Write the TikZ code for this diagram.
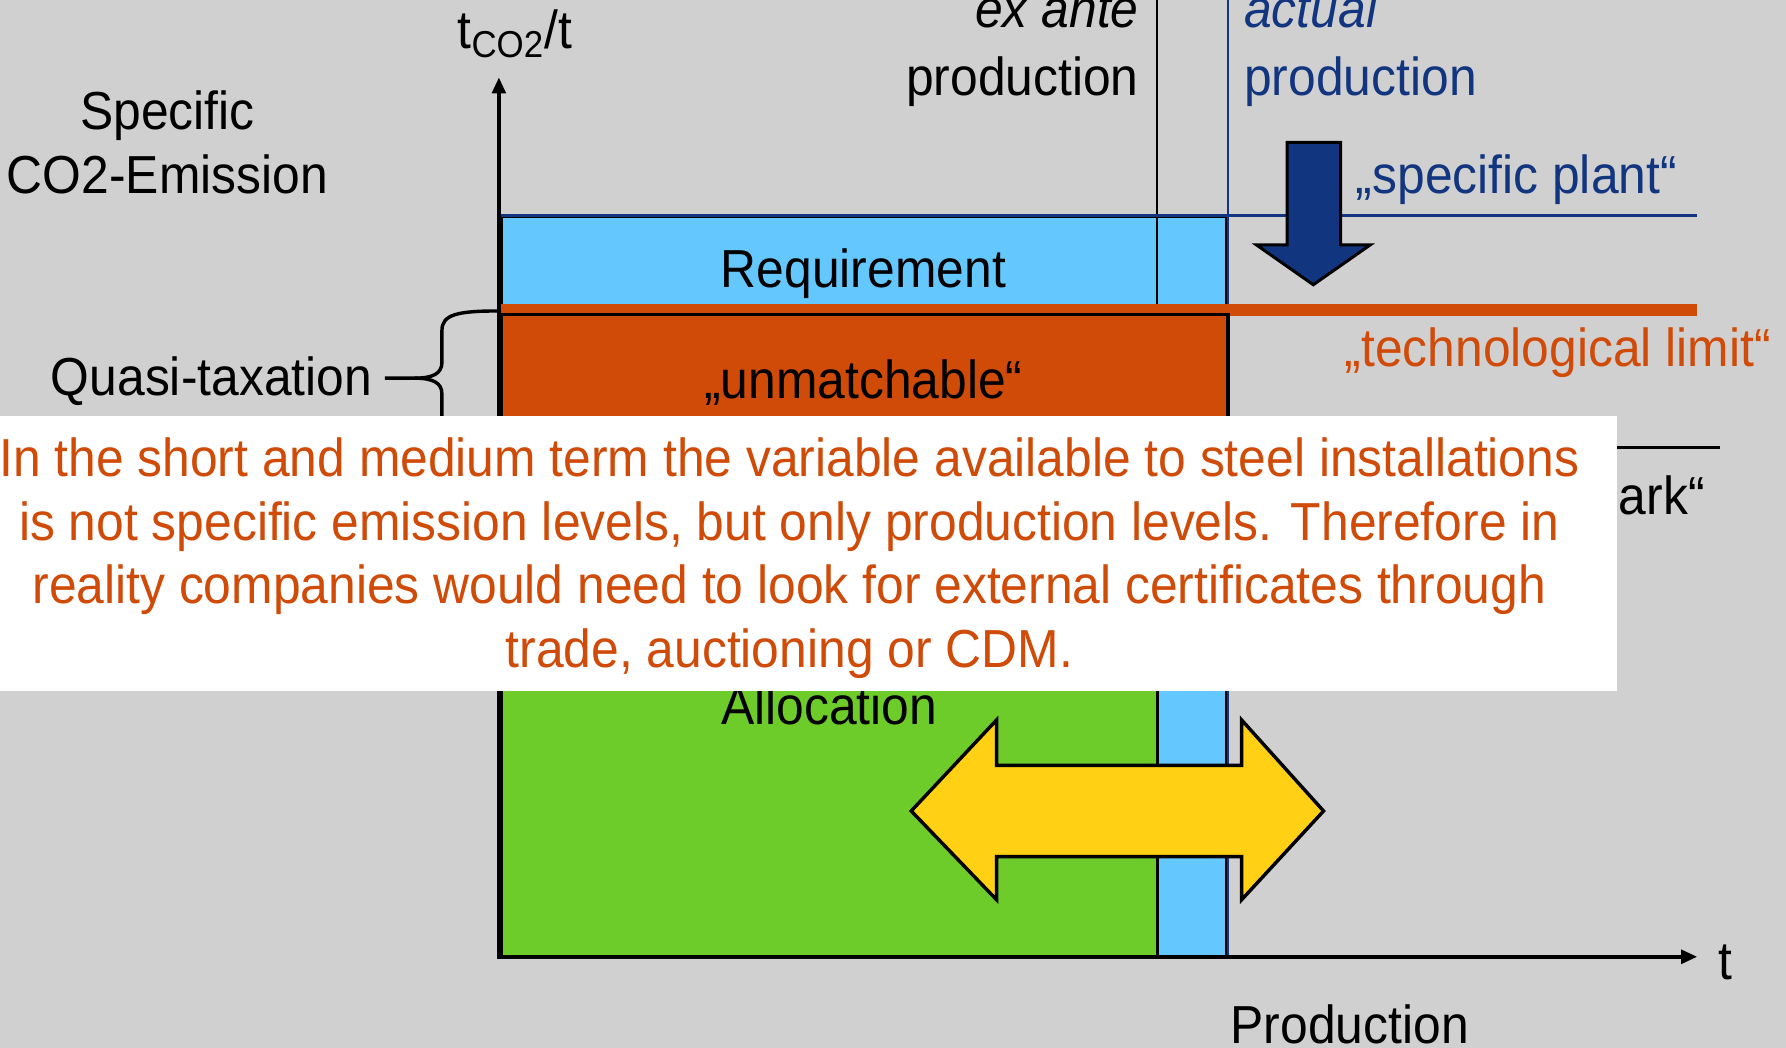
\documentclass[tikz,border=0pt]{standalone}
\usepackage{fontspec}
\setmainfont{Liberation Sans}[FakeStretch=0.93]
\usetikzlibrary{arrows.meta}
\definecolor{bggrey}{HTML}{D0D0D0}
\definecolor{reqblue}{HTML}{64C8FF}
\definecolor{limorange}{HTML}{D04A08}
\definecolor{allocgreen}{HTML}{6ECC2A}
\definecolor{plantblue}{HTML}{12357F}
\definecolor{arrowyellow}{HTML}{FFD014}
\begin{document}
\begin{tikzpicture}[x=0.5pt,y=-0.5pt,
  lbl/.style={inner sep=0pt, font=\fontsize{23.5}{28}\selectfont},
  boxline/.style={draw=black, line width=1.5pt},
  axis/.style={line width=1.5pt, -{Triangle[length=7pt,width=6pt]}}]
\fill[bggrey] (0,0) rectangle (1568,920);
\useasboundingbox (0,0) rectangle (1568,920);

% requirement box (light blue, incl. column between ex ante and actual)
\path[fill=reqblue, boxline] (440,190) rectangle (1077,840);
\node[lbl, anchor=base] (req) at (758,252) {Requirement};

% ex ante / actual production lines
\coordinate (exT) at (1016,0); \coordinate (exB) at (1016,840);
\coordinate (acT) at (1078,0); \coordinate (acB) at (1078,840);
\draw[line width=1pt] (exT) -- (exB);
\draw[line width=1pt, plantblue] (acT) -- (acB);

% specific plant line
\coordinate (spL) at (440,189); \coordinate (spR) at (1490,189);
\draw[line width=1.5pt, plantblue] (spL) -- (spR);

% technological limit line
\coordinate (tlL) at (440,272); \coordinate (tlR) at (1490,272);
\draw[line width=5pt, limorange] (tlL) -- (tlR);

% unmatchable box
\path[fill=limorange, boxline] (440,276) rectangle (1078,393);
\node[lbl, anchor=base] (unm) at (758,350) {„unmatchable“};

% allocation box
\path[fill=allocgreen, boxline] (440,393) rectangle (1016,840);
\node[lbl, anchor=base] (alloc) at (728,636) {Allocation};

% benchmark line
\coordinate (bmL) at (1078,393); \coordinate (bmR) at (1510,393);
\draw[line width=1.5pt] (bmL) -- (bmR);
\node[lbl, anchor=base east] (bm) at (1497,452) {ark“};

% axes
\coordinate (O) at (438,840);
\coordinate (yT) at (438,68);
\coordinate (xR) at (1490,840);
\draw[axis] (438,842) -- (yT);
\draw[axis] (O) -- (xR);
\node[lbl, anchor=base] (tx) at (1515,860) {t};
\node[lbl, anchor=base] (prod) at (1185,916) {Production};
\node[lbl, anchor=base] (ty) at (452,43) {t\textsubscript{CO2}/t};
\node[lbl, align=center] (spec) at (147,125) {Specific\\CO2-Emission};

% ex ante / actual labels
\node[lbl, anchor=base east, font=\fontsize{23.5}{28}\selectfont\itshape] (exante) at (1000,24) {ex ante};
\node[lbl, anchor=base east] (exprod) at (1000,84) {production};
\node[lbl, anchor=base west, text=plantblue, font=\fontsize{23.5}{28}\selectfont\itshape] (actual) at (1092,24) {actual};
\node[lbl, anchor=base west, text=plantblue] (acprod) at (1092,84) {production};

% specific plant arrow
\draw[fill=plantblue, line width=1.3pt] (1130,125) -- (1177,125) -- (1177,215) -- (1203,215)
  -- (1153,250) -- (1103,215) -- (1130,215) -- cycle;
\node[lbl, anchor=base west, text=plantblue] (splab) at (1190,170) {„specific plant“};

% technological limit label
\node[lbl, anchor=base east, text=limorange] (tllab) at (1555,322) {„technological limit“};

% quasi-taxation brace
\node[lbl, anchor=base east] (quasi) at (327,347) {Quasi-taxation};
\coordinate (brTop) at (438,273);
\coordinate (brBot) at (438,392);
\coordinate (brTip) at (338,332);
\draw[line width=1.5pt] (brTop) .. controls (402,273) and (388,276) .. (388,290) -- (388,318)
  .. controls (388,328) and (380,332) .. (364,332) -- (brTip);
\draw[line width=1.5pt] (364,332) .. controls (380,332) and (388,336) .. (388,346) -- (388,378)
  .. controls (388,389) and (402,392) .. (brBot);

% yellow double arrow
\draw[fill=arrowyellow, line width=1.5pt] (800,712) -- (875,632) -- (875,672) -- (1090,672)
  -- (1090,632) -- (1162,712) -- (1090,790) -- (1090,752) -- (875,752) -- (875,790) -- cycle;

% white note box
\fill[white] (0,365) rectangle (1420,607);
\node[lbl, align=center, text=limorange] (note) at (693,490)
  {In the short and medium term the variable available to steel installations\\
   is not specific  emission levels, but only production levels. Therefore in\\
   reality companies would need to look for external certificates through\\
   trade, auctioning or CDM.};
\end{tikzpicture}
\end{document}
